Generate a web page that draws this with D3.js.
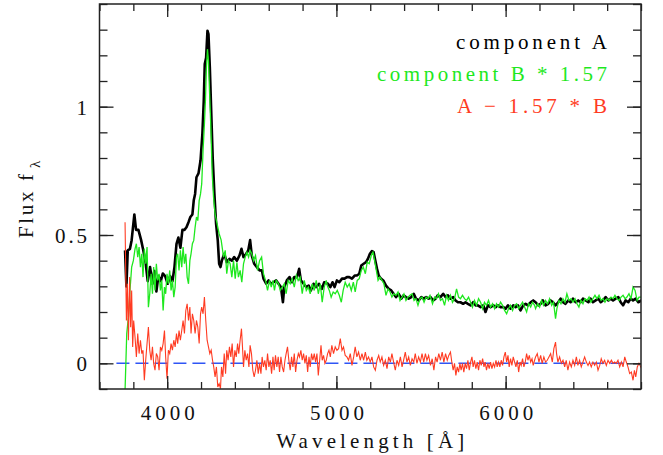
<!DOCTYPE html>
<html lang="en">
<head>
<meta charset="UTF-8">
<title>Flux spectra</title>
<script src="https://d3js.org/d3.v7.min.js"></script>
<style>
  body { margin: 0; background: #fff; }
  text { font-family: "Liberation Serif", serif; }
</style>
</head>
<body>
<div id="chart"></div>
<script>
// [wavelength (A), flux]
const componentA = [
  [3751,0.44],[3759,0.30],[3767,0.44],[3780,0.446],[3790,0.48],[3806,0.58],[3816,0.52],[3830,0.52],
  [3846,0.48],[3859,0.44],[3873,0.39],[3885,0.32],[3899,0.375],[3913,0.31],[3924,0.36],[3936,0.28],
  [3948,0.34],[3962,0.32],[3974,0.35],[3988,0.34],[4003,0.31],[4017,0.34],[4031,0.32],[4043,0.375],
  [4055,0.465],[4066,0.49],[4078,0.45],[4090,0.52],[4102,0.52],[4114,0.53],[4126,0.55],[4137,0.57],
  [4149,0.58],[4157,0.635],[4165,0.66],[4173,0.725],[4185,0.74],[4197,0.79],[4208,0.894],[4216,1.02],
  [4222,1.166],[4230,1.19],[4238,1.296],[4244,1.283],[4252,1.153],[4260,0.985],[4269,0.80],[4279,0.66],
  [4289,0.543],[4299,0.478],[4307,0.388],[4315,0.375],[4323,0.40],[4337,0.427],[4352,0.394],[4368,0.407],
  [4382,0.40],[4396,0.414],[4412,0.40],[4427,0.42],[4439,0.446],[4451,0.414],[4467,0.427],[4479,0.44],
  [4490,0.48],[4500,0.42],[4514,0.388],[4530,0.375],[4546,0.362],[4560,0.362],[4569,0.33],[4585,0.31],
  [4599,0.323],[4613,0.31],[4629,0.316],[4644,0.323],[4658,0.31],[4672,0.297],[4684,0.238],[4692,0.297],
  [4707,0.323],[4723,0.336],[4737,0.316],[4751,0.336],[4767,0.336],[4780,0.368],[4790,0.323],[4806,0.31],
  [4822,0.297],[4836,0.303],[4849,0.284],[4865,0.31],[4881,0.297],[4897,0.31],[4914,0.29],[4928,0.316],
  [4950,0.31],[4964,0.297],[4977,0.316],[4989,0.297],[5003,0.323],[5017,0.316],[5033,0.33],[5048,0.33],
  [5062,0.336],[5076,0.336],[5092,0.33],[5108,0.342],[5121,0.342],[5135,0.349],[5147,0.381],[5161,0.388],
  [5175,0.394],[5186,0.407],[5198,0.427],[5210,0.437],[5220,0.433],[5230,0.40],[5240,0.368],[5250,0.342],
  [5263,0.33],[5277,0.323],[5293,0.303],[5309,0.29],[5324,0.284],[5338,0.271],[5352,0.258],[5368,0.271],
  [5384,0.252],[5397,0.265],[5411,0.258],[5427,0.252],[5443,0.258],[5457,0.271],[5470,0.252],[5486,0.245],
  [5502,0.258],[5516,0.252],[5530,0.258],[5545,0.252],[5556,0.258],[5572,0.245],[5586,0.252],[5599,0.265],
  [5615,0.258],[5631,0.271],[5645,0.258],[5659,0.265],[5674,0.252],[5690,0.258],[5704,0.245],[5718,0.238],
  [5733,0.238],[5749,0.232],[5763,0.238],[5777,0.232],[5793,0.226],[5808,0.238],[5822,0.226],[5836,0.226],
  [5852,0.219],[5868,0.226],[5881,0.20],[5895,0.226],[5911,0.219],[5927,0.226],[5941,0.219],[5954,0.226],
  [5970,0.219],[5986,0.219],[6000,0.213],[6014,0.226],[6029,0.213],[6045,0.226],[6059,0.219],[6073,0.226],
  [6088,0.206],[6104,0.226],[6118,0.232],[6132,0.226],[6148,0.238],[6163,0.245],[6177,0.238],[6193,0.226],
  [6207,0.232],[6220,0.245],[6236,0.226],[6252,0.232],[6266,0.245],[6280,0.238],[6295,0.226],[6311,0.238],
  [6325,0.252],[6339,0.238],[6354,0.232],[6370,0.245],[6384,0.238],[6398,0.252],[6414,0.238],[6429,0.245],
  [6443,0.238],[6457,0.252],[6473,0.245],[6489,0.238],[6502,0.252],[6516,0.238],[6532,0.245],[6548,0.252],
  [6562,0.238],[6575,0.245],[6591,0.258],[6607,0.245],[6621,0.252],[6635,0.245],[6650,0.252],[6666,0.258],
  [6680,0.238],[6694,0.226],[6709,0.245],[6725,0.238],[6739,0.252],[6753,0.245],[6769,0.252],[6784,0.238],
  [6804,0.245]
];

// component B already scaled by 1.57
const componentB = [
  [3751,-0.105],[3761,0.116],[3771,0.18],[3780,0.284],[3790,0.375],[3800,0.40],[3810,0.446],[3818,0.466],
  [3826,0.414],[3834,0.453],[3842,0.375],[3850,0.427],[3857,0.336],[3865,0.446],[3873,0.388],[3881,0.453],
  [3889,0.219],[3897,0.271],[3905,0.349],[3913,0.271],[3920,0.375],[3928,0.284],[3936,0.388],[3944,0.323],
  [3952,0.349],[3960,0.284],[3968,0.323],[3976,0.206],[3984,0.297],[3991,0.271],[3999,0.349],[4007,0.31],
  [4015,0.362],[4023,0.284],[4031,0.323],[4039,0.258],[4047,0.297],[4055,0.414],[4062,0.427],[4070,0.362],
  [4078,0.44],[4086,0.375],[4094,0.453],[4102,0.388],[4110,0.427],[4118,0.336],[4126,0.31],[4134,0.40],
  [4141,0.427],[4149,0.466],[4157,0.479],[4165,0.53],[4173,0.57],[4181,0.556],[4189,0.634],[4197,0.66],
  [4204,0.699],[4212,0.829],[4220,0.933],[4226,1.024],[4232,1.153],[4238,1.224],[4244,1.179],[4250,1.062],
  [4258,0.92],[4266,0.738],[4274,0.647],[4283,0.582],[4295,0.543],[4307,0.505],[4319,0.48],[4333,0.414],
  [4343,0.44],[4352,0.349],[4362,0.40],[4372,0.388],[4382,0.336],[4392,0.40],[4402,0.33],[4412,0.394],
  [4421,0.336],[4431,0.362],[4441,0.316],[4451,0.388],[4461,0.414],[4471,0.433],[4481,0.414],[4490,0.44],
  [4500,0.427],[4510,0.40],[4522,0.42],[4534,0.362],[4546,0.40],[4558,0.414],[4569,0.349],[4581,0.323],
  [4593,0.284],[4605,0.323],[4615,0.297],[4625,0.323],[4634,0.284],[4644,0.323],[4658,0.31],[4668,0.284],
  [4680,0.297],[4692,0.31],[4703,0.271],[4715,0.323],[4727,0.31],[4739,0.33],[4751,0.297],[4763,0.342],
  [4774,0.323],[4786,0.336],[4798,0.271],[4810,0.323],[4822,0.284],[4834,0.297],[4845,0.271],[4857,0.31],
  [4869,0.284],[4881,0.323],[4893,0.271],[4905,0.31],[4916,0.238],[4928,0.297],[4940,0.323],[4946,0.303],
  [4958,0.284],[4969,0.258],[4981,0.278],[4993,0.271],[5005,0.284],[5017,0.265],[5029,0.238],[5040,0.284],
  [5052,0.316],[5064,0.297],[5076,0.31],[5088,0.284],[5100,0.316],[5111,0.278],[5123,0.323],[5135,0.33],
  [5147,0.362],[5159,0.375],[5171,0.349],[5182,0.394],[5194,0.388],[5206,0.42],[5216,0.433],[5226,0.40],
  [5236,0.362],[5246,0.323],[5257,0.336],[5269,0.323],[5281,0.31],[5293,0.265],[5305,0.29],[5317,0.278],
  [5328,0.258],[5340,0.271],[5352,0.265],[5364,0.278],[5376,0.245],[5388,0.258],[5399,0.271],[5411,0.245],
  [5423,0.258],[5435,0.265],[5447,0.271],[5459,0.245],[5470,0.252],[5482,0.226],[5494,0.252],[5506,0.258],
  [5518,0.238],[5530,0.258],[5541,0.252],[5553,0.265],[5568,0.232],[5580,0.258],[5591,0.252],[5603,0.271],
  [5615,0.245],[5627,0.252],[5639,0.226],[5651,0.265],[5662,0.245],[5674,0.265],[5686,0.238],[5698,0.252],
  [5710,0.29],[5722,0.258],[5733,0.252],[5745,0.265],[5757,0.252],[5769,0.245],[5781,0.258],[5793,0.238],
  [5804,0.219],[5816,0.245],[5828,0.226],[5840,0.252],[5852,0.238],[5864,0.213],[5875,0.238],[5887,0.226],
  [5899,0.245],[5911,0.219],[5923,0.232],[5935,0.213],[5946,0.232],[5958,0.219],[5970,0.238],[5982,0.226],
  [5994,0.206],[6006,0.193],[6017,0.213],[6029,0.226],[6041,0.206],[6053,0.226],[6065,0.232],[6077,0.213],
  [6088,0.226],[6100,0.238],[6112,0.219],[6124,0.20],[6136,0.232],[6148,0.219],[6159,0.238],[6171,0.226],
  [6177,0.213],[6189,0.232],[6201,0.219],[6212,0.245],[6224,0.226],[6236,0.245],[6248,0.232],[6260,0.252],
  [6272,0.226],[6283,0.238],[6295,0.174],[6303,0.213],[6315,0.245],[6327,0.232],[6339,0.252],[6351,0.238],
  [6362,0.271],[6374,0.245],[6386,0.252],[6398,0.238],[6410,0.252],[6422,0.232],[6433,0.219],[6445,0.245],
  [6457,0.232],[6469,0.252],[6481,0.245],[6493,0.258],[6504,0.238],[6516,0.252],[6528,0.265],[6540,0.252],
  [6552,0.265],[6564,0.245],[6575,0.252],[6587,0.238],[6599,0.252],[6611,0.245],[6623,0.258],[6635,0.252],
  [6646,0.265],[6658,0.252],[6670,0.245],[6682,0.258],[6694,0.265],[6706,0.252],[6717,0.258],[6729,0.271],
  [6741,0.252],[6753,0.297],[6765,0.284],[6777,0.245],[6788,0.258],[6804,0.258]
];

// A - 1.57 * B
const difference = [
  [3751,0.55],[3759,0.167],[3765,0.31],[3771,0.09],[3778,0.336],[3784,0.141],[3790,0.284],[3796,0.064],
  [3802,0.167],[3810,0.102],[3818,0.025],[3826,0.116],[3834,0.038],[3842,0.09],[3850,0.038],[3857,0.051],
  [3865,-0.066],[3873,0.012],[3881,0.077],[3889,0.141],[3897,0.051],[3905,0.012],[3913,0.064],[3920,0.0],
  [3928,-0.027],[3936,0.038],[3944,0.025],[3952,-0.027],[3960,0.064],[3968,0.051],[3976,0.077],[3984,0.128],
  [3991,0.025],[3999,-0.06],[4007,0.051],[4015,0.038],[4023,0.077],[4031,0.051],[4039,0.09],[4047,0.064],
  [4055,0.116],[4062,0.077],[4070,0.128],[4078,0.09],[4086,0.128],[4094,0.167],[4102,0.116],[4110,0.206],
  [4118,0.232],[4126,0.167],[4134,0.219],[4141,0.116],[4149,0.193],[4157,0.167],[4165,0.116],[4173,0.167],
  [4181,0.141],[4189,0.077],[4197,0.193],[4204,0.219],[4212,0.193],[4220,0.258],[4228,0.167],[4236,0.09],
  [4244,0.064],[4252,0.038],[4260,0.051],[4268,0.012],[4275,-0.014],[4283,-0.053],[4291,-0.014],[4299,-0.092],
  [4307,-0.079],[4315,-0.098],[4321,-0.014],[4329,-0.053],[4337,0.038],[4345,-0.04],[4352,0.051],[4360,0.012],
  [4368,0.064],[4376,0.025],[4384,0.077],[4392,-0.014],[4400,0.051],[4408,0.025],[4416,0.077],[4423,0.038],
  [4431,0.09],[4439,0.135],[4445,0.064],[4451,-0.014],[4459,0.051],[4467,0.012],[4475,0.038],[4483,-0.014],
  [4490,0.07],[4498,0.038],[4506,-0.027],[4514,-0.053],[4522,-0.027],[4530,0.012],[4538,-0.04],[4546,0.0],
  [4554,-0.04],[4561,0.025],[4569,-0.014],[4577,0.012],[4585,-0.027],[4593,0.038],[4601,-0.014],[4609,0.012],
  [4617,-0.04],[4625,0.025],[4632,-0.027],[4640,0.031],[4648,-0.014],[4656,0.025],[4664,-0.034],[4672,0.025],
  [4680,-0.014],[4688,-0.034],[4696,0.012],[4703,0.038],[4711,0.064],[4719,0.012],[4727,-0.027],[4735,0.025],
  [4743,-0.014],[4751,0.038],[4759,-0.034],[4767,0.012],[4775,0.038],[4782,0.025],[4790,0.051],[4798,0.012],
  [4806,0.038],[4814,0.0],[4822,0.031],[4830,-0.034],[4838,0.025],[4845,-0.014],[4853,0.038],[4861,0.012],
  [4869,0.038],[4877,0.005],[4885,0.038],[4893,-0.047],[4901,0.012],[4909,0.07],[4916,0.012],[4924,0.031],
  [4932,0.0],[4940,0.012],[4948,0.038],[4956,0.051],[4964,0.025],[4973,0.07],[4983,0.038],[4993,0.064],
  [5003,0.051],[5013,0.057],[5023,0.096],[5033,0.051],[5042,0.064],[5052,0.031],[5062,0.025],[5072,0.012],
  [5082,0.038],[5092,-0.008],[5102,0.025],[5111,0.064],[5121,0.025],[5131,0.044],[5141,0.012],[5151,0.038],
  [5161,0.012],[5171,0.044],[5180,0.012],[5190,0.025],[5200,0.005],[5210,0.025],[5220,-0.014],[5230,-0.027],
  [5240,0.012],[5250,0.031],[5259,0.005],[5269,0.025],[5279,-0.008],[5289,0.012],[5299,-0.021],[5309,0.025],
  [5319,0.005],[5328,0.038],[5338,0.005],[5348,-0.027],[5358,0.012],[5368,-0.008],[5378,0.025],[5388,-0.014],
  [5397,0.012],[5407,0.044],[5417,0.005],[5427,0.025],[5437,-0.008],[5447,0.018],[5457,0.005],[5466,0.038],
  [5476,0.0],[5486,0.025],[5496,0.005],[5506,0.038],[5516,0.005],[5526,0.038],[5535,0.012],[5545,0.031],
  [5556,-0.008],[5566,0.018],[5576,-0.027],[5586,0.025],[5595,0.005],[5605,0.038],[5615,0.012],[5625,0.044],
  [5635,0.005],[5645,0.038],[5655,0.012],[5664,0.031],[5674,0.044],[5682,0.005],[5690,-0.027],[5698,0.0],
  [5706,-0.047],[5714,-0.014],[5722,-0.034],[5730,0.0],[5737,-0.027],[5745,0.0],[5753,-0.034],[5761,0.0],
  [5769,-0.021],[5777,0.012],[5785,-0.027],[5793,0.005],[5801,0.025],[5808,-0.014],[5816,0.012],[5824,-0.021],
  [5832,0.005],[5840,-0.027],[5848,0.012],[5856,-0.008],[5864,0.018],[5872,-0.014],[5879,0.005],[5887,-0.027],
  [5895,0.0],[5903,-0.021],[5911,0.005],[5919,-0.021],[5927,0.0],[5935,-0.014],[5943,0.012],[5950,-0.014],
  [5958,0.005],[5966,-0.014],[5974,0.012],[5982,-0.008],[5990,0.025],[5998,0.044],[6006,0.005],[6014,0.031],
  [6021,-0.014],[6029,0.018],[6037,-0.008],[6045,0.025],[6053,0.005],[6061,-0.014],[6069,0.012],[6077,-0.034],
  [6085,0.005],[6092,-0.008],[6100,0.018],[6108,-0.014],[6116,0.005],[6124,0.038],[6132,0.012],[6140,0.031],
  [6148,0.005],[6156,0.018],[6163,-0.008],[6171,0.012],[6177,0.025],[6187,0.038],[6197,0.005],[6207,0.031],
  [6216,0.0],[6226,0.025],[6236,0.005],[6246,0.012],[6256,0.025],[6266,0.038],[6276,0.005],[6285,0.057],
  [6295,0.083],[6301,0.038],[6309,0.005],[6319,0.025],[6329,0.0],[6339,0.012],[6349,-0.014],[6358,0.012],
  [6368,-0.027],[6378,0.005],[6388,-0.014],[6398,0.012],[6408,-0.008],[6418,0.025],[6427,-0.008],[6437,0.012],
  [6447,-0.014],[6457,0.005],[6467,0.025],[6477,0.005],[6487,-0.008],[6496,0.005],[6506,-0.014],[6516,0.005],
  [6526,-0.008],[6536,0.005],[6546,-0.027],[6556,-0.008],[6565,0.018],[6575,0.0],[6585,0.012],[6595,-0.008],
  [6605,0.012],[6615,0.0],[6625,0.012],[6635,0.0],[6644,0.005],[6654,0.0],[6664,0.012],[6674,-0.014],
  [6684,0.005],[6694,-0.014],[6704,0.025],[6713,0.005],[6723,-0.014],[6733,-0.04],[6743,-0.034],[6753,-0.066],
  [6761,-0.027],[6769,-0.053],[6778,-0.014],[6788,0.0],[6804,-0.021]
];

const zeroLine = [[3700, 0], [6700, 0]];
const xTickValues = [4000, 5000, 6000];
const yTickValues = [0, 0.5, 1];
const legendLabels = ["component A", "component B * 1.57", "A \u2212 1.57 * B"];
const legendColors = ["#000000", "#1ee81e", "#ff3b22"];

const width = 663, height = 455;
const plotLeft = 99.5, plotRight = 641, plotTop = 4, plotBottom = 389;

const svg = d3.select("#chart").append("svg")
    .attr("width", width)
    .attr("height", height)
    .style("display", "block");

svg.append("rect").attr("width", width).attr("height", height).attr("fill", "#fff");

const x = d3.scaleLinear().domain([3600, 6800]).range([plotLeft, plotRight]);
const y = d3.scaleLinear().domain([-0.1, 1.4]).range([plotBottom, plotTop]);

svg.append("clipPath").attr("id", "plot-clip")
  .append("rect")
    .attr("x", plotLeft).attr("y", plotTop)
    .attr("width", plotRight - plotLeft).attr("height", plotBottom - plotTop);

const plot = svg.append("g").attr("clip-path", "url(#plot-clip)");

const line = d3.line()
    .x(d => x(d[0]))
    .y(d => y(d[1]));

plot.append("path")
    .datum(zeroLine)
    .attr("d", line)
    .attr("fill", "none")
    .attr("stroke", "#2f55f5")
    .attr("stroke-width", 1.5)
    .attr("stroke-dasharray", "13,6");

plot.append("path")
    .datum(componentA)
    .attr("d", line)
    .attr("fill", "none")
    .attr("stroke", legendColors[0])
    .attr("stroke-width", 2.6)
    .attr("stroke-linejoin", "round");

plot.append("path")
    .datum(componentB)
    .attr("d", line)
    .attr("fill", "none")
    .attr("stroke", legendColors[1])
    .attr("stroke-width", 1.3);

plot.append("path")
    .datum(difference)
    .attr("d", line)
    .attr("fill", "none")
    .attr("stroke", legendColors[2])
    .attr("stroke-width", 1.1);

// axes: ticks point inward on all four sides
const xMinor = d3.range(3600, 6801, 200);
const yMinor = d3.range(-0.1, 1.41, 0.1);

function addAxis(axis, transform) {
  const g = svg.append("g").attr("transform", transform).call(axis.tickSizeOuter(0));
  g.select(".domain").remove();
  g.selectAll("line").attr("stroke", "#222").attr("stroke-width", 1.3);
  g.attr("font-family", null).attr("font-size", null);
  return g;
}

addAxis(d3.axisBottom(x).tickValues(xMinor).tickSize(-7).tickFormat(""), `translate(0,${plotBottom})`);
addAxis(d3.axisTop(x).tickValues(xMinor).tickSize(-7).tickFormat(""), `translate(0,${plotTop})`);
addAxis(d3.axisTop(x).tickValues(xTickValues).tickSize(-13).tickFormat(""), `translate(0,${plotTop})`);
addAxis(d3.axisLeft(y).tickValues(yMinor).tickSize(-8).tickFormat(""), `translate(${plotLeft},0)`);
addAxis(d3.axisRight(y).tickValues(yMinor).tickSize(-8).tickFormat(""), `translate(${plotRight},0)`);
addAxis(d3.axisRight(y).tickValues(yTickValues).tickSize(-14).tickFormat(""), `translate(${plotRight},0)`);

const xAxis = addAxis(d3.axisBottom(x).tickValues(xTickValues).tickSize(-13).tickPadding(16)
    .tickFormat(d3.format("d")), `translate(0,${plotBottom})`);
xAxis.selectAll("text")
    .attr("font-size", 21)
    .attr("fill", "#111")
    .attr("textLength", 54)
    .attr("lengthAdjust", "spacing");

const yAxis = addAxis(d3.axisLeft(y).tickValues(yTickValues).tickSize(-14).tickPadding(12.5)
    .tickFormat(d => d === 0.5 ? "0.5" : d3.format("d")(d)), `translate(${plotLeft},0)`);
yAxis.selectAll("text")
    .attr("font-size", 21)
    .attr("fill", "#111")
    .attr("dy", "0.36em")
    .filter(d => d === 0.5)
    .attr("textLength", 32)
    .attr("lengthAdjust", "spacing");

svg.append("rect")
    .attr("x", plotLeft).attr("y", plotTop)
    .attr("width", plotRight - plotLeft).attr("height", plotBottom - plotTop)
    .attr("fill", "none")
    .attr("stroke", "#222")
    .attr("stroke-width", 1.5);

// axis titles
svg.append("text")
    .attr("x", (plotLeft + plotRight) / 2)
    .attr("y", 448)
    .attr("text-anchor", "middle")
    .attr("font-size", 21)
    .attr("fill", "#111")
    .attr("textLength", 188)
    .attr("lengthAdjust", "spacing")
    .text("Wavelength [\u00c5]");

svg.append("text")
    .attr("transform", "translate(33,238) rotate(-90)")
    .attr("font-size", 21)
    .attr("fill", "#111")
    .attr("textLength", 64)
    .attr("lengthAdjust", "spacing")
    .text("Flux f");

svg.append("text")
    .attr("transform", "translate(40,168) rotate(-90)")
    .attr("font-size", 15)
    .attr("fill", "#111")
    .text("\u03bb");

// legend
const legendLengths = [151, 230, 150];
svg.selectAll(".legend")
  .data(legendLabels)
  .enter().append("text")
    .attr("class", "legend")
    .attr("x", 607)
    .attr("y", (d, i) => 49 + i * 32)
    .attr("text-anchor", "end")
    .attr("font-size", 21)
    .attr("fill", (d, i) => legendColors[i])
    .attr("textLength", (d, i) => legendLengths[i])
    .attr("lengthAdjust", "spacing")
    .text(d => d);
</script>
</body>
</html>
